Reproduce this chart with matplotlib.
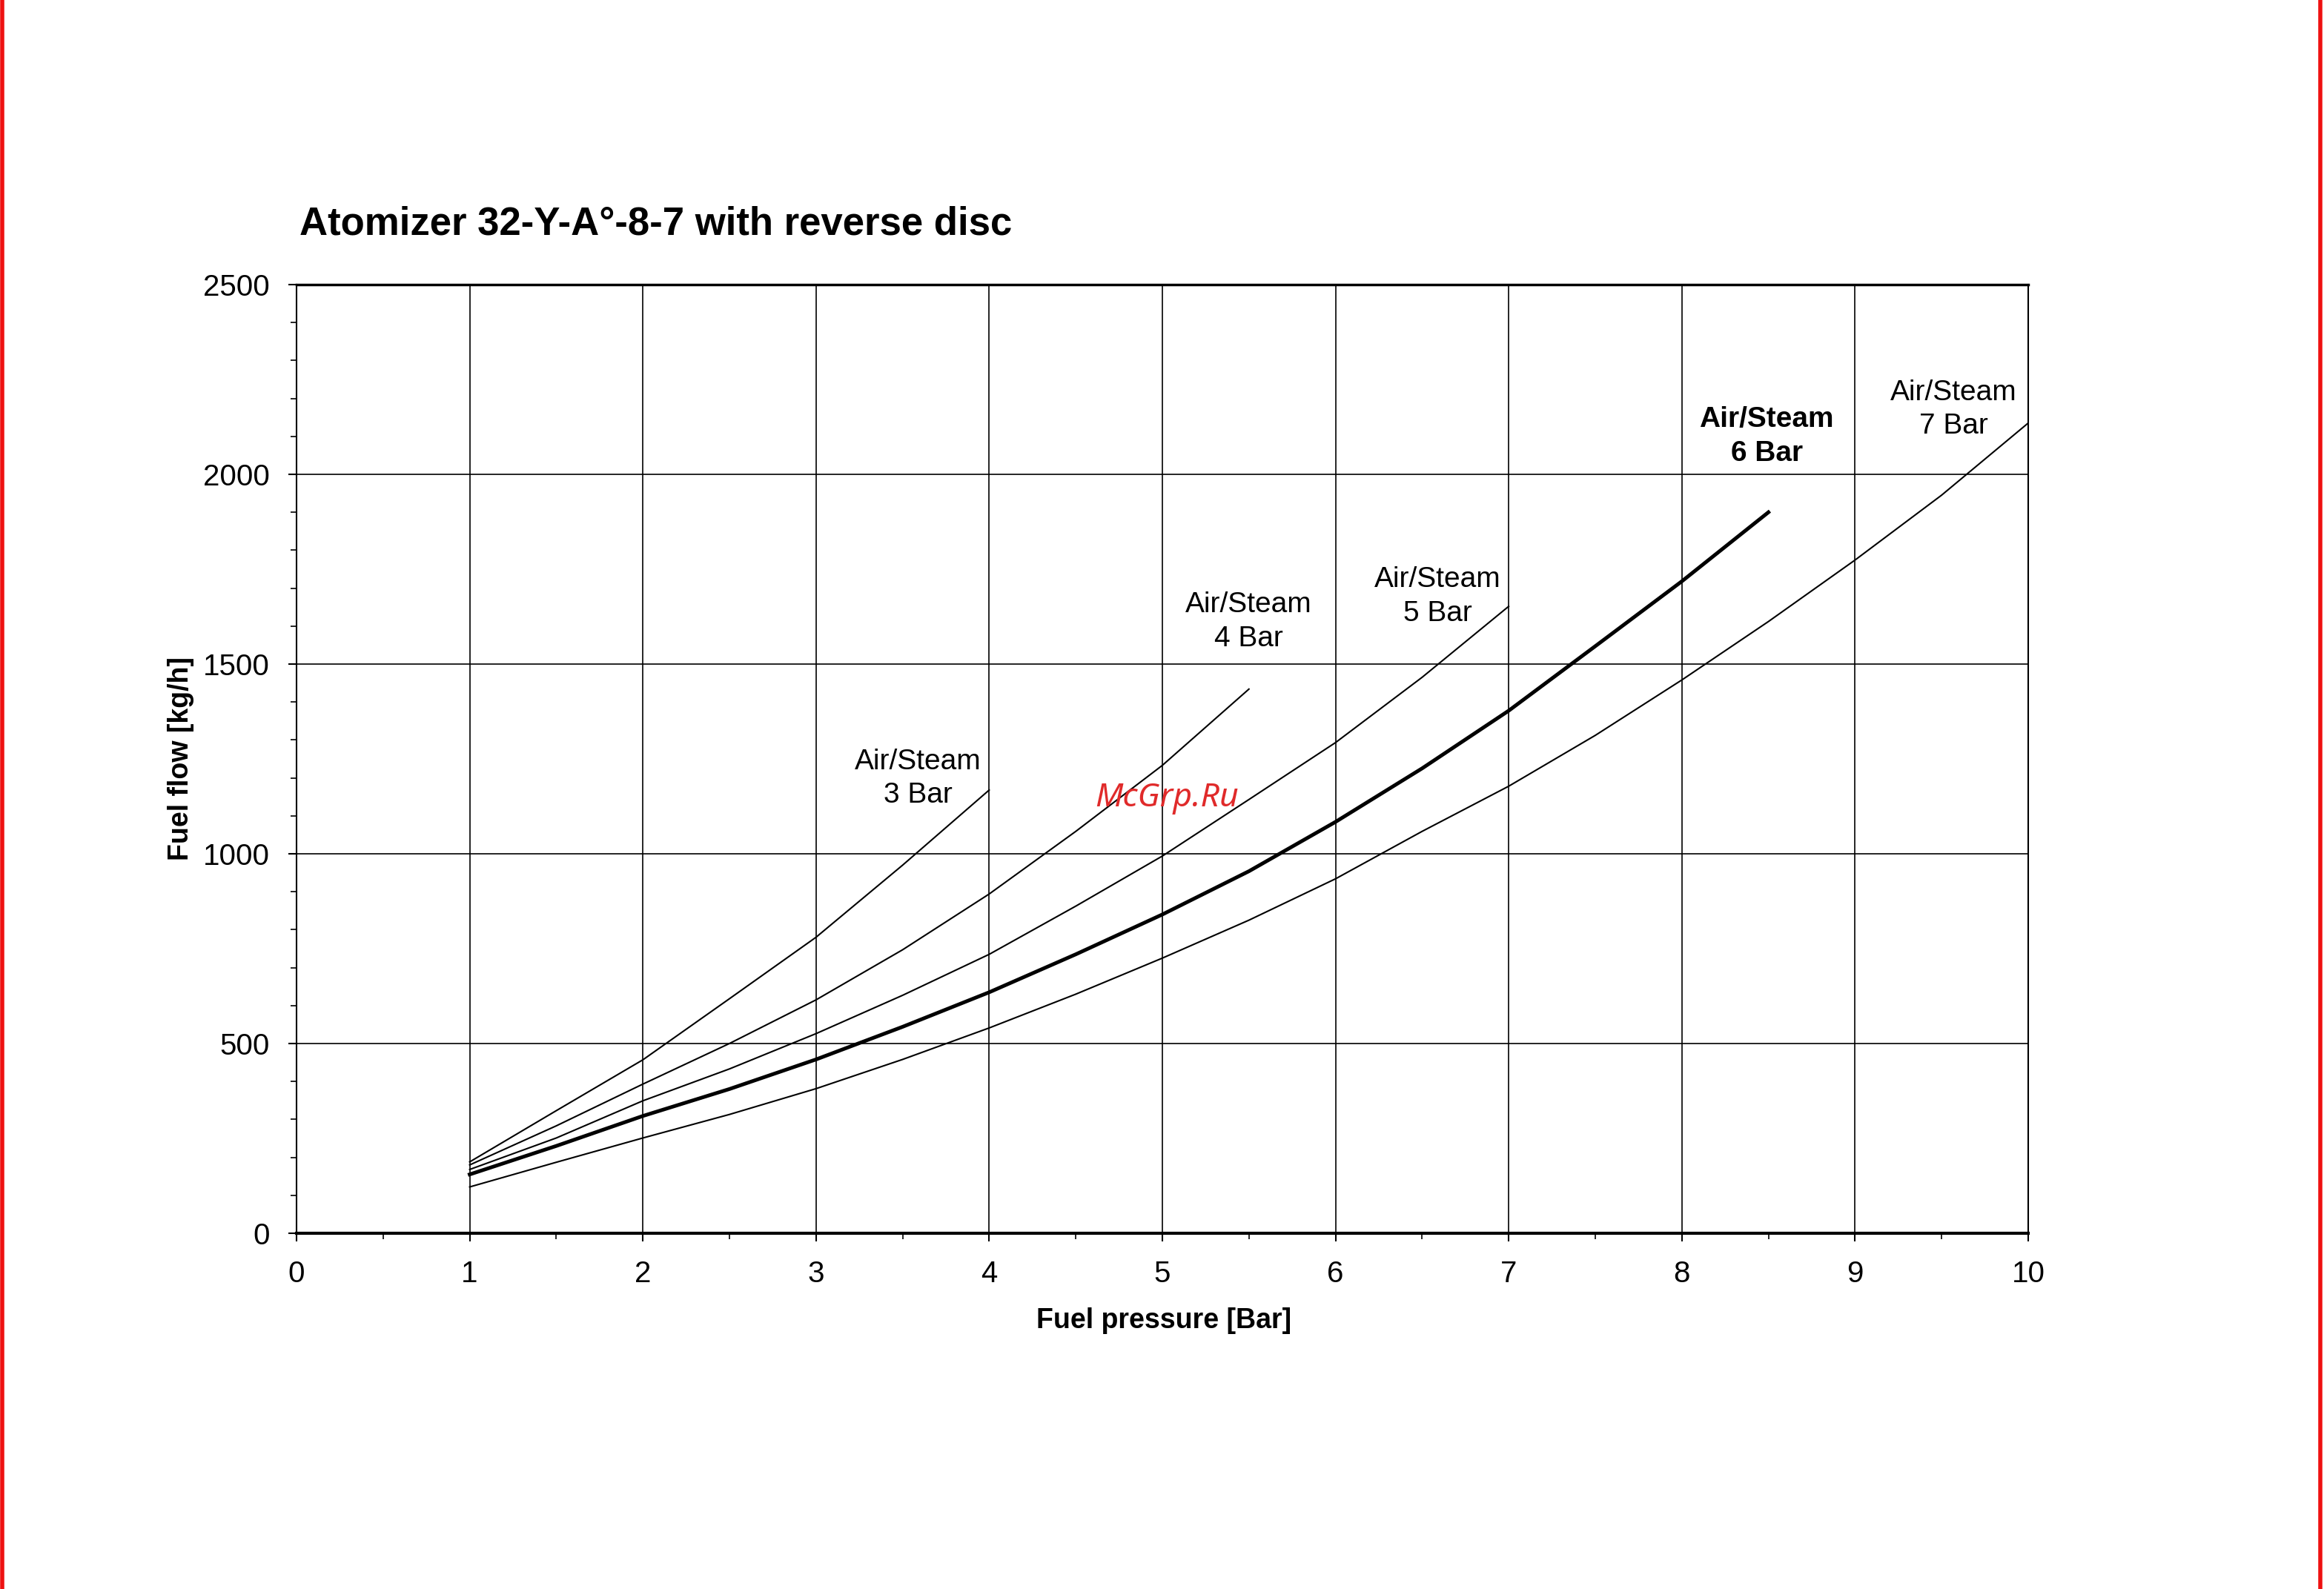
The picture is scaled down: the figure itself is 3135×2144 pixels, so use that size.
import matplotlib.pyplot as plt
import numpy as np
from matplotlib.lines import Line2D
from matplotlib.ticker import MultipleLocator

plt.rcParams['font.family'] = ['Liberation Sans', 'DejaVu Sans']

# values
x_3bar = [1, 1.5, 2, 2.5, 3, 3.5, 4]
y_3bar = [188, 323, 457, 618, 780, 970, 1168]

x_4bar = [1, 1.5, 2, 2.5, 3, 3.5, 4, 4.5, 5, 5.5]
y_4bar = [180, 283, 393, 500, 615, 747, 894, 1059, 1233, 1434]

x_5bar = [1, 1.5, 2, 2.5, 3, 3.5, 4, 4.5, 5, 5.5, 6, 6.5, 7]
y_5bar = [168, 251, 349, 433, 526, 627, 735, 862, 994, 1143, 1293, 1465, 1652]

x_6bar = [1, 1.5, 2, 2.5, 3, 3.5, 4, 4.5, 5, 5.5, 6, 6.5, 7, 7.5, 8, 8.5]
y_6bar = [155, 230, 309, 380, 458, 544, 635, 735, 840, 954, 1084, 1225, 1377, 1547, 1718, 1900]

x_7bar = [1, 1.5, 2, 2.5, 3, 3.5, 4, 4.5, 5, 5.5, 6, 6.5, 7, 7.5, 8, 8.5, 9, 9.5, 10]
y_7bar = [122, 187, 251, 313, 381, 458, 541, 630, 725, 825, 934, 1059, 1178, 1312, 1458, 1612, 1774, 1945, 2135]

labels = ["Air/Steam\n3 Bar", "Air/Steam\n4 Bar", "Air/Steam\n5 Bar", "Air/Steam\n6 Bar", "Air/Steam\n7 Bar"]
label_pos = [(3.59, 1198), (5.5, 1612), (6.59, 1678), (8.49, 2100), (9.57, 2171)]

fig = plt.figure(figsize=(31.35, 21.44), dpi=100)
ax = fig.add_axes([0.1276, 0.2239, 0.7451, 0.597])

ax.plot(x_3bar, y_3bar, color='black', lw=1.5)
ax.plot(x_4bar, y_4bar, color='black', lw=1.5)
ax.plot(x_5bar, y_5bar, color='black', lw=1.5)
ax.plot(x_6bar, y_6bar, color='black', lw=3.6)
ax.plot(x_7bar, y_7bar, color='black', lw=1.5)

for i, (lab, (lx, ly)) in enumerate(zip(labels, label_pos)):
    ax.text(lx, ly, lab, ha='center', va='center', fontsize=28,
            fontweight='bold' if i == 3 else 'normal', linespacing=1.35)

ax.set_xlim(0, 10)
ax.set_ylim(0, 2500)
ax.xaxis.set_major_locator(MultipleLocator(1))
ax.xaxis.set_minor_locator(MultipleLocator(0.5))
ax.yaxis.set_major_locator(MultipleLocator(500))
ax.yaxis.set_minor_locator(MultipleLocator(100))
ax.grid(True, which='major', color='black', lw=1.2)
ax.tick_params(which='major', length=8, width=1.5, labelsize=29, pad=18)
ax.tick_params(which='minor', length=6, width=1.2)
for s in ax.spines.values():
    s.set_linewidth(1.5)
ax.spines['bottom'].set_linewidth(3)
ax.spines['top'].set_linewidth(2.5)

fig.text(0.129, 0.859, "Atomizer 32-Y-A°-8-7 with reverse disc", fontsize=38,
         fontweight='bold', ha='left', va='center')
fig.text(0.5008, 0.1689, "Fuel pressure [Bar]", fontsize=27, fontweight='bold',
         ha='center', va='center')
fig.text(0.0778, 0.5224, "Fuel flow [kg/h]", fontsize=27, fontweight='bold',
         ha='center', va='center', rotation=90)

# watermark
fig.text(0.502, 0.498, "McGrp.Ru", fontsize=32, style='italic', color='#e02a2a',
         ha='center', va='center', family=['Noto Sans', 'DejaVu Sans'])

# red scan borders
fig.add_artist(Line2D([0.0008, 0.0008], [0, 1], color='#ee1111', lw=4, transform=fig.transFigure))
fig.add_artist(Line2D([0.9985, 0.9985], [0, 1], color='#ee1111', lw=4, transform=fig.transFigure))

fig.savefig("out.png", dpi=100)
